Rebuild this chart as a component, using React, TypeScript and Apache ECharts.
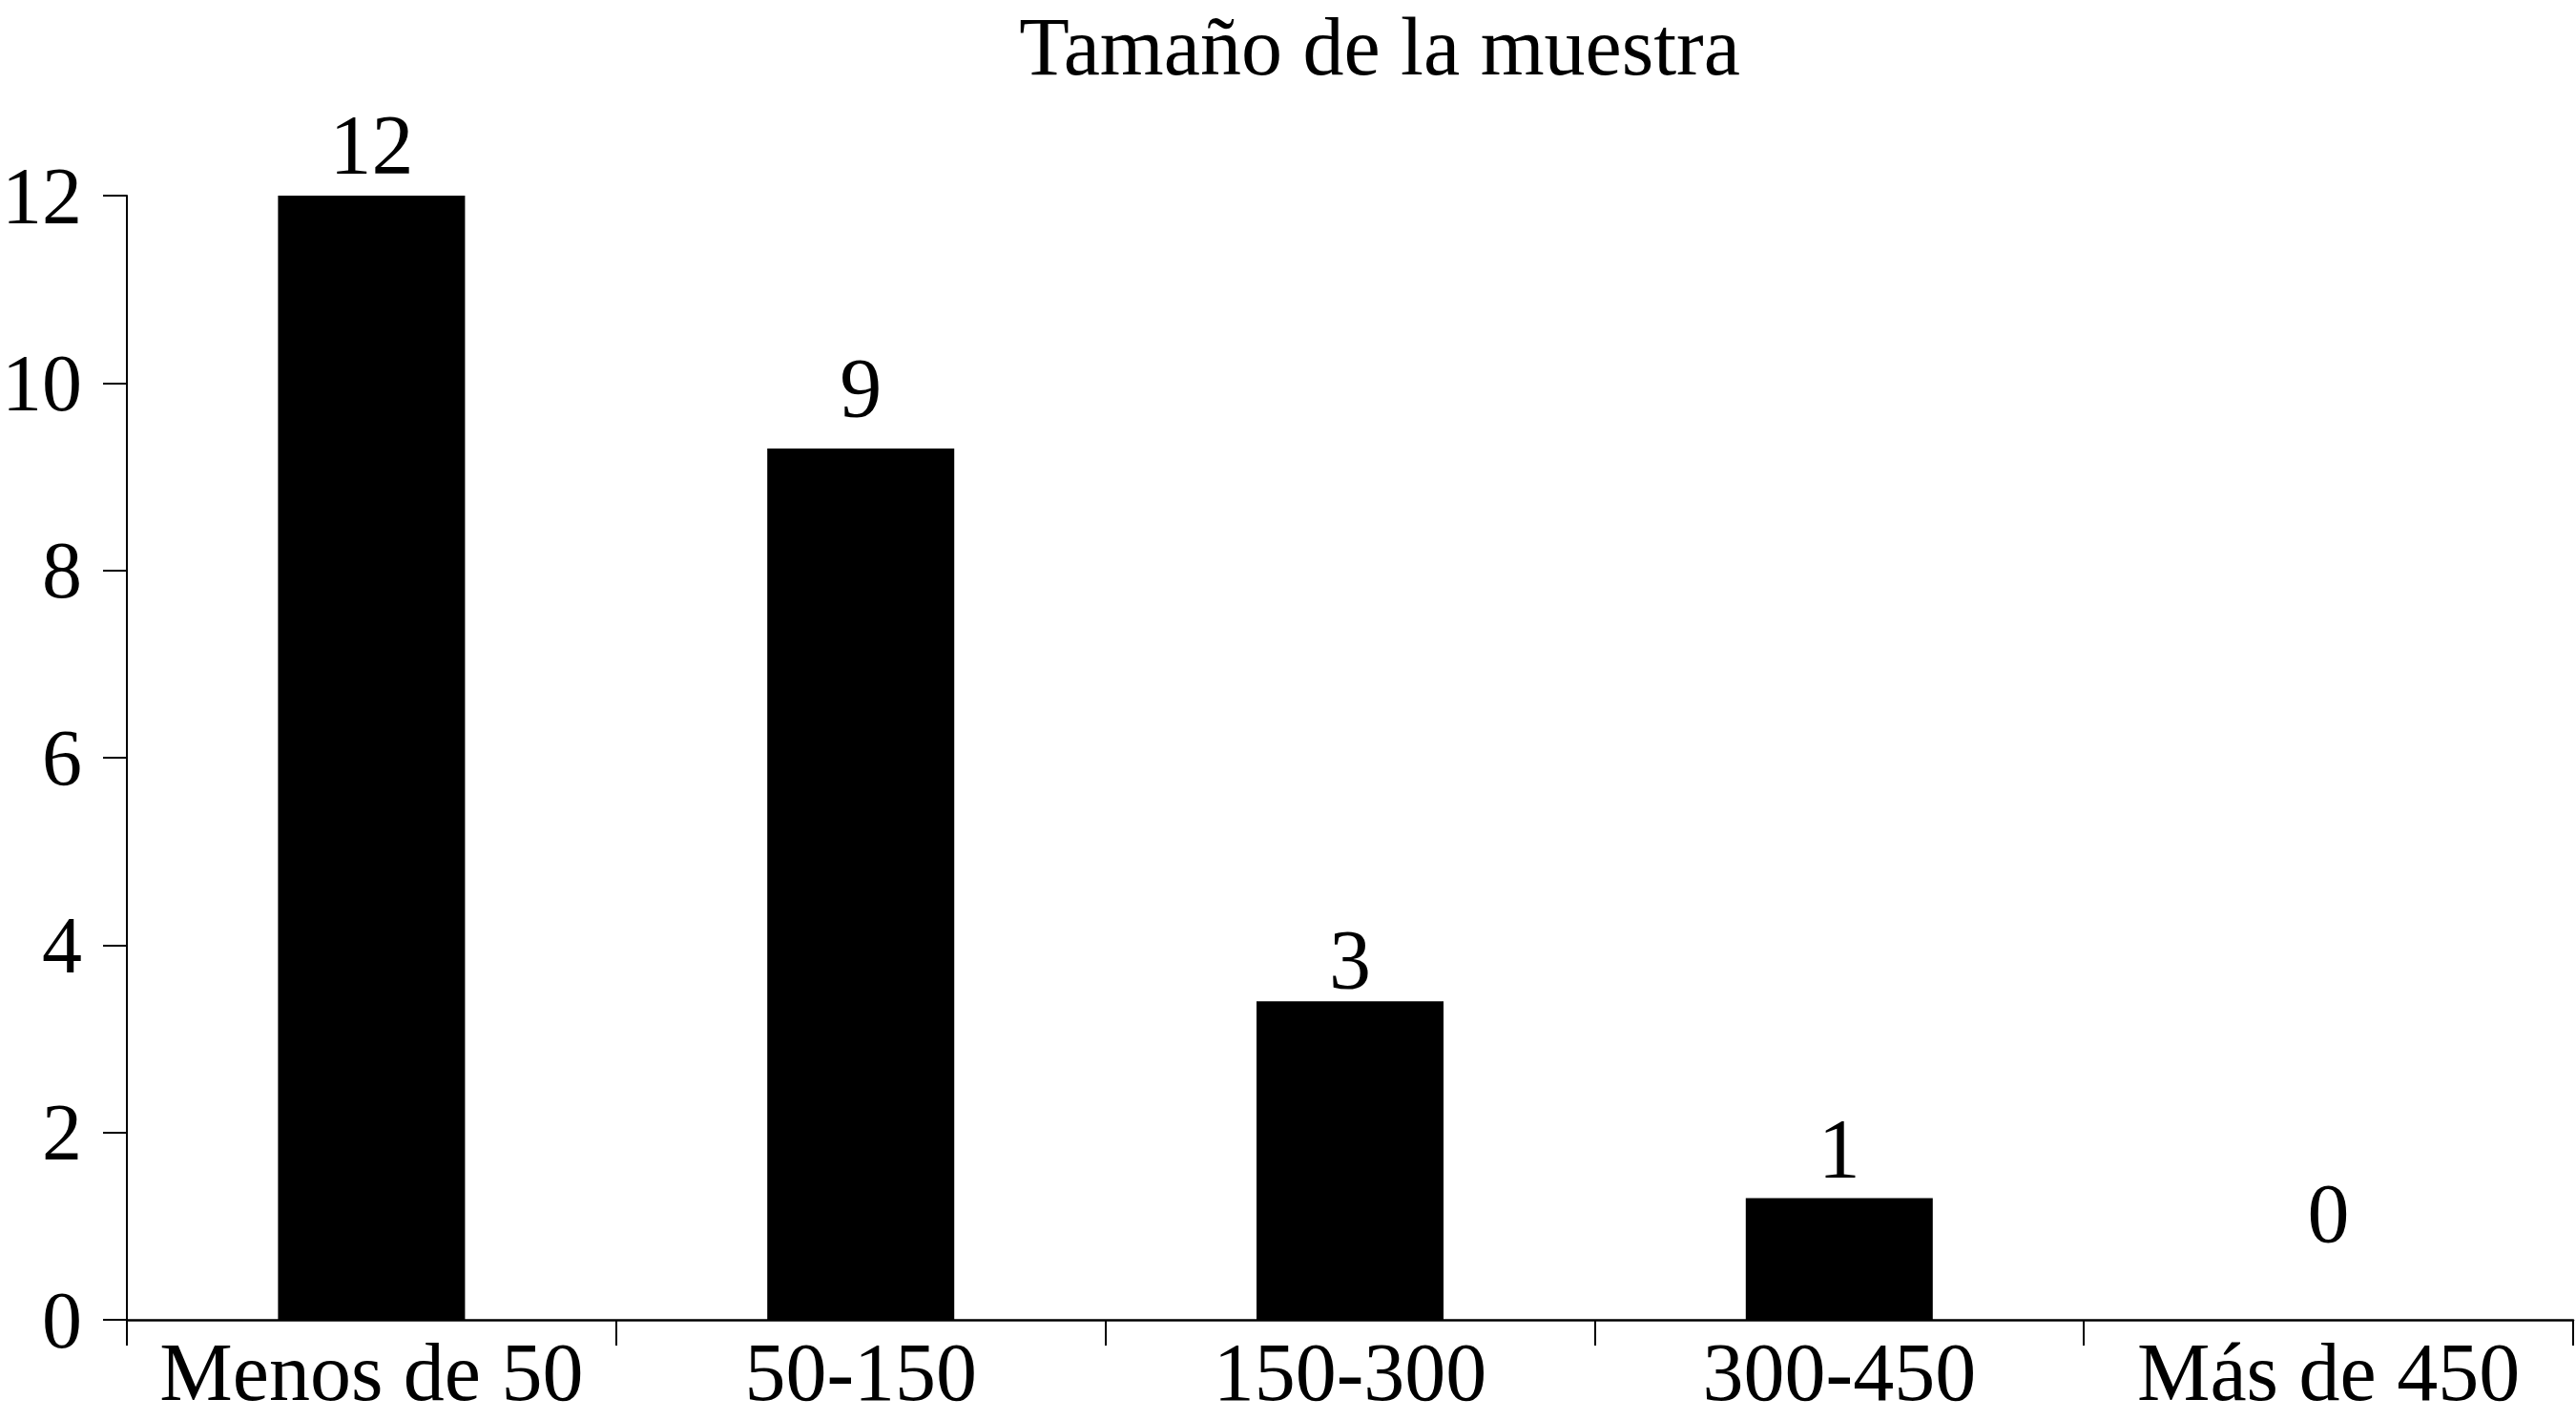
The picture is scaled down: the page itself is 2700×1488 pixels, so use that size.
import React, { useEffect, useRef } from "react";
import * as echarts from "echarts";

const titleText = "Tamaño de la muestra";
const categories = ["Menos de 50", "50-150", "150-300", "300-450", "Más de 450"];
const barHeights = [12, 9.3, 3.4, 1.3, 0];
const barLabels = ["12", "9", "3", "1", "0"];
const yTicks = { min: 0, max: 12, interval: 2 };

// styling: distance of each value label above its bar
const labelLift = [10, 20, 0, 8, 68];

const FONT = "Liberation Serif";

export default function App() {
  const ref = useRef<HTMLDivElement>(null);
  useEffect(() => {
    document.body.style.margin = "0";
    const chart = echarts.init(ref.current!, null, { renderer: "svg" });
    chart.setOption({
      animation: false,
      backgroundColor: "#ffffff",
      textStyle: { fontFamily: FONT, color: "#000" },
      graphic: [
        {
          type: "text",
          x: 1446,
          y: 1,
          style: {
            text: titleText,
            fontFamily: FONT,
            fontSize: 86,
            lineHeight: 96,
            fill: "#000",
            textAlign: "center",
            textVerticalAlign: "top",
          },
        },
      ],
      grid: {
        left: 133,
        right: 3,
        top: 205,
        bottom: 105,
        containLabel: false,
        outerBoundsMode: "none",
      },
      xAxis: {
        type: "category",
        data: categories,
        boundaryGap: true,
        axisLine: { show: true, lineStyle: { color: "#000", width: 2.5 } },
        axisTick: { show: true, length: 27, alignWithLabel: false, lineStyle: { color: "#000", width: 2 } },
        axisLabel: { color: "#000", fontFamily: FONT, fontSize: 86, margin: 7, lineHeight: 96, interval: 0, hideOverlap: false },
        splitLine: { show: false },
      },
      yAxis: {
        type: "value",
        min: yTicks.min,
        max: yTicks.max,
        interval: yTicks.interval,
        axisLine: { show: true, lineStyle: { color: "#000", width: 2 } },
        axisTick: { show: true, length: 25, lineStyle: { color: "#000", width: 2 } },
        axisLabel: { color: "#000", fontFamily: FONT, fontSize: 84, margin: 47 },
        splitLine: { show: false },
      },
      series: [
        {
          type: "bar",
          barWidth: 196,
          itemStyle: { color: "#000" },
          data: barHeights.map((v, i) => ({
            value: v,
            label: {
              show: true,
              position: "top",
              distance: labelLift[i],
              formatter: barLabels[i],
              color: "#000",
              fontFamily: FONT,
              fontSize: 88,
              lineHeight: 88,
            },
          })),
        },
      ],
    });
    return () => chart.dispose();
  }, []);
  return <div ref={ref} style={{ width: 2700, height: 1488 }} />;
}
